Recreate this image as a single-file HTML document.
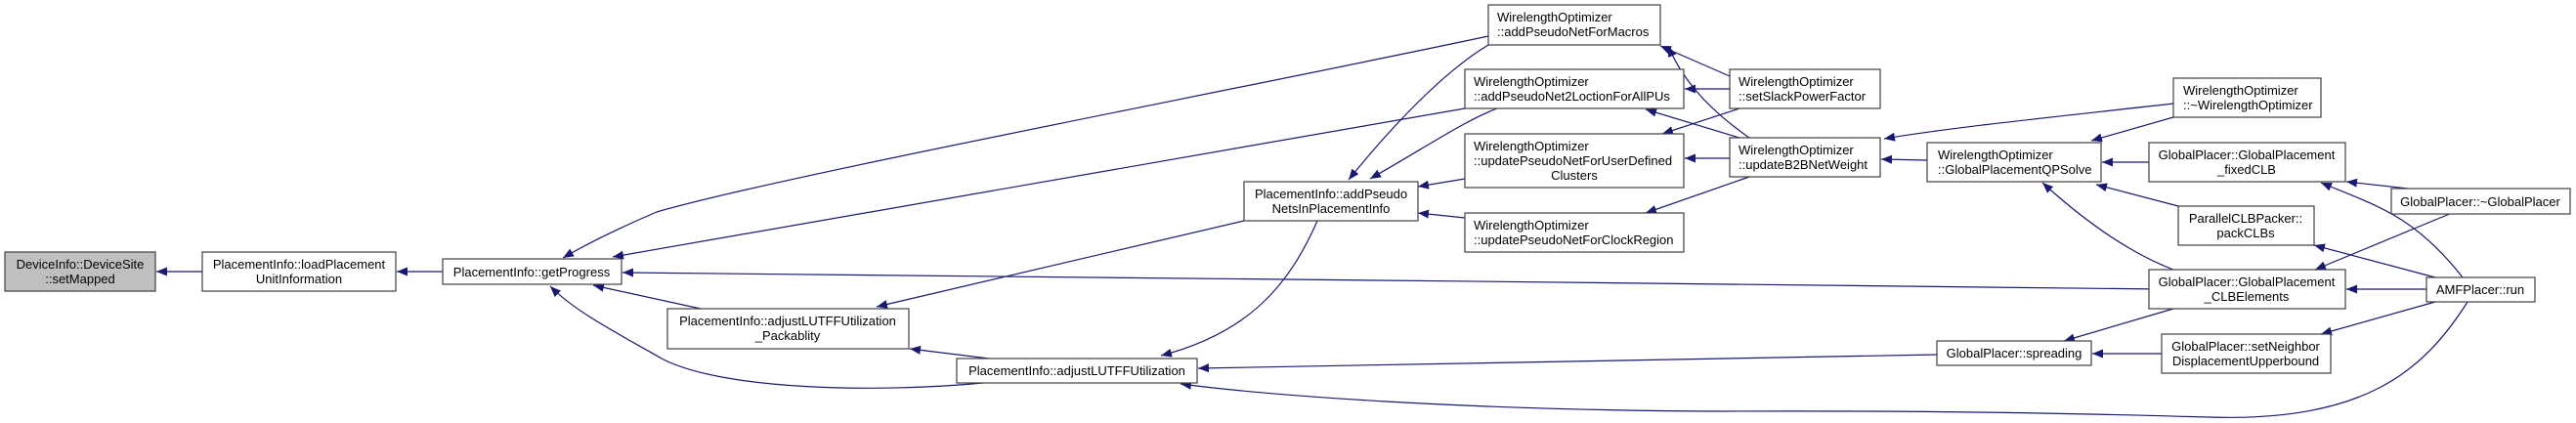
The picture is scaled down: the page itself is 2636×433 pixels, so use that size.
<!DOCTYPE html>
<html><head><meta charset="utf-8"><style>
html,body{margin:0;padding:0;background:#fff;}
svg{display:block;}
text{font-family:"Liberation Sans",Arial,sans-serif;font-size:13px;fill:#000;}
</style></head><body>
<svg width="2636" height="433" viewBox="0 0 2636 433" xmlns="http://www.w3.org/2000/svg">
<defs>
<marker id="a" markerWidth="11" markerHeight="9" refX="11" refY="4.5" orient="auto" markerUnits="userSpaceOnUse"><path d="M0,0 L11,4.5 L0,9z" fill="#191970"/></marker>
</defs>
<g fill="none" stroke="#191970" stroke-width="1.2" marker-end="url(#a)">
<path d="M207,278 L160,278"/>
<path d="M453,278 L406,278"/>
<path d="M1523,37 C1250,95 800,180 672,217 C630,235 600,250 576,264"/>
<path d="M1499,111 L627,263"/>
<path d="M2211,296 C1800,292 900,280 637,279"/>
<path d="M717,316 L607,292"/>
<path d="M1006,392 C900,402 740,400 677,367 C630,340 590,320 563,293"/>
<path d="M1273,226 L897,314"/>
<path d="M1012,367 L931,357"/>
<path d="M1348,226 C1320,290 1280,340 1188,364"/>
<path d="M1982,363 C1600,368 1400,372 1226,377"/>
<path d="M2525,309 C2480,380 2420,432 2260,427 C2150,424 2000,420 1760,421 C1500,420 1300,405 1208,393"/>
<path d="M1523,46 C1488,67 1440,110 1380,184"/>
<path d="M1532,111 C1500,123 1460,150 1402,183"/>
<path d="M1499,183 L1451,191"/>
<path d="M1499,223 L1451,218"/>
<path d="M1770,78 L1699,47"/>
<path d="M1790,141 C1760,120 1725,90 1707,47"/>
<path d="M1770,91 L1724,91"/>
<path d="M1780,141 L1684,112"/>
<path d="M1780,111 L1701,137"/>
<path d="M1770,162 L1724,162"/>
<path d="M1790,181 L1684,218"/>
<path d="M1972,164 L1925,163"/>
<path d="M2224,106 C2100,120 2000,130 1928,142"/>
<path d="M2224,120 L2140,144"/>
<path d="M2199,166 L2151,166"/>
<path d="M2229,211 L2145,189"/>
<path d="M2224,276 C2190,263 2145,237 2090,187"/>
<path d="M2464,193 L2401,186"/>
<path d="M2520,284 C2470,220 2430,210 2375,187"/>
<path d="M2509,218 L2369,276"/>
<path d="M2492,284 L2368,251"/>
<path d="M2483,296 L2401,296"/>
<path d="M2224,316 L2112,349"/>
<path d="M2212,362 L2141,362"/>
<path d="M2492,309 L2375,342"/>
</g>
<g stroke="#404040" stroke-width="1.2">
<rect x="5" y="258" width="154" height="40" fill="#bfbfbf"/>
<rect x="207" y="258" width="198" height="40" fill="#fff"/>
<rect x="453" y="265" width="183" height="26" fill="#fff"/>
<rect x="683" y="316" width="247" height="41" fill="#fff"/>
<rect x="979" y="367" width="246" height="25" fill="#fff"/>
<rect x="1273" y="186" width="178" height="40" fill="#fff"/>
<rect x="1523" y="5" width="176" height="41" fill="#fff"/>
<rect x="1499" y="71" width="224" height="40" fill="#fff"/>
<rect x="1499" y="137" width="224" height="55" fill="#fff"/>
<rect x="1499" y="218" width="224" height="40" fill="#fff"/>
<rect x="1770" y="71" width="154" height="40" fill="#fff"/>
<rect x="1770" y="141" width="154" height="40" fill="#fff"/>
<rect x="1972" y="146" width="178" height="40" fill="#fff"/>
<rect x="2224" y="80" width="151" height="40" fill="#fff"/>
<rect x="2199" y="146" width="201" height="40" fill="#fff"/>
<rect x="2229" y="211" width="139" height="40" fill="#fff"/>
<rect x="2199" y="276" width="201" height="40" fill="#fff"/>
<rect x="2447" y="193" width="183" height="26" fill="#fff"/>
<rect x="2483" y="284" width="111" height="25" fill="#fff"/>
<rect x="1982" y="349" width="158" height="25" fill="#fff"/>
<rect x="2212" y="342" width="173" height="40" fill="#fff"/>
</g>
<g text-anchor="middle">
<text x="82" y="275">DeviceInfo::DeviceSite</text><text x="82" y="290">::setMapped</text>
<text x="306" y="275">PlacementInfo::loadPlacement</text><text x="306" y="290">UnitInformation</text>
<text x="544" y="283">PlacementInfo::getProgress</text>
<text x="806" y="333">PlacementInfo::adjustLUTFFUtilization</text><text x="806" y="348">_Packablity</text>
<text x="1102" y="384">PlacementInfo::adjustLUTFFUtilization</text>
<text x="1362" y="203">PlacementInfo::addPseudo</text><text x="1362" y="218">NetsInPlacementInfo</text>
<text x="1611" y="184">Clusters</text>
<text x="2299" y="163">GlobalPlacer::GlobalPlacement</text><text x="2299" y="178">_fixedCLB</text>
<text x="2298" y="228">ParallelCLBPacker::</text><text x="2298" y="243">packCLBs</text>
<text x="2299" y="293">GlobalPlacer::GlobalPlacement</text><text x="2299" y="308">_CLBElements</text>
<text x="2538" y="211">GlobalPlacer::~GlobalPlacer</text>
<text x="2538" y="301">AMFPlacer::run</text>
<text x="2061" y="366">GlobalPlacer::spreading</text>
<text x="2298" y="359">GlobalPlacer::setNeighbor</text><text x="2298" y="374">DisplacementUpperbound</text>
</g>
<g>
<text x="1532" y="22">WirelengthOptimizer</text><text x="1532" y="37">::addPseudoNetForMacros</text>
<text x="1508" y="88">WirelengthOptimizer</text><text x="1508" y="103">::addPseudoNet2LoctionForAllPUs</text>
<text x="1508" y="154">WirelengthOptimizer</text><text x="1508" y="169">::updatePseudoNetForUserDefined</text>
<text x="1508" y="235">WirelengthOptimizer</text><text x="1508" y="250">::updatePseudoNetForClockRegion</text>
<text x="1779" y="88">WirelengthOptimizer</text><text x="1779" y="103">::setSlackPowerFactor</text>
<text x="1779" y="158">WirelengthOptimizer</text><text x="1779" y="173">::updateB2BNetWeight</text>
<text x="1983" y="163">WirelengthOptimizer</text><text x="1983" y="178">::GlobalPlacementQPSolve</text>
<text x="2234" y="97">WirelengthOptimizer</text><text x="2234" y="112">::~WirelengthOptimizer</text>
</g>
</svg>
</body></html>
